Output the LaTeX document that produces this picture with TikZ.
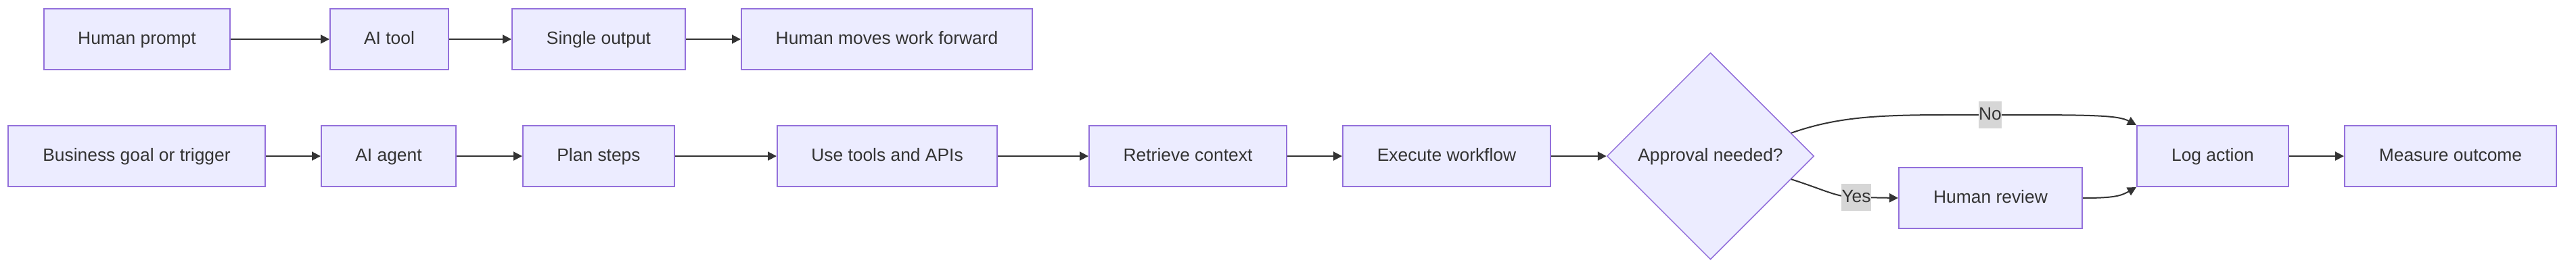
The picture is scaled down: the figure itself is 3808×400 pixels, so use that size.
\documentclass[tikz,border=0pt]{standalone}
\usepackage{fontspec}
\setmainfont{Liberation Sans}
\usepackage{tikz}
\usetikzlibrary{arrows.meta, shapes.geometric}

\definecolor{boxfill}{HTML}{ECECFF}
\definecolor{boxline}{HTML}{9370DB}
\definecolor{edgegray}{HTML}{333333}
\definecolor{lblfill}{HTML}{D6D6D6}

\tikzset{
  box/.style={draw=boxline, fill=boxfill, line width=2pt, minimum height=90pt,
              inner sep=0pt, text height=20pt, text depth=6pt, text=edgegray},
  decision/.style={diamond, aspect=1, draw=boxline, fill=boxfill, line width=1.5pt,
              minimum width=306pt, minimum height=306pt, inner sep=0pt,
              text height=20pt, text depth=6pt, text=edgegray},
  lbl/.style={fill=lblfill, inner xsep=0.5pt, inner ysep=0pt, minimum height=40pt,
              text height=20pt, text depth=6pt, text=edgegray}
}

\begin{document}
\begin{tikzpicture}[x=1pt, y=-1pt, line width=2pt, draw=edgegray,
    >={Triangle[length=13pt, width=13pt]},
    font=\fontsize{26.4}{31}\selectfont]
    \useasboundingbox (0,0) rectangle (3808,400);

    \node[box, minimum width=275pt](prompt) at (202.5, 58) {Human prompt};
    \node[box, minimum width=175pt](tool)   at (575.5, 58) {AI tool};
    \node[box, minimum width=256pt](single) at (885, 58)   {Single output};
    \node[box, minimum width=430pt](fwd)    at (1311, 58)  {Human moves work forward};

    \node[box, minimum width=380pt](goal)   at (202, 231)    {Business goal or trigger};
    \node[box, minimum width=199pt](agent)  at (574.5, 231)  {AI agent};
    \node[box, minimum width=224pt](plan)   at (885, 231)    {Plan steps};
    \node[box, minimum width=325pt](apis)   at (1311.5, 231) {Use tools and APIs};
    \node[box, minimum width=292pt](ctx)    at (1756, 231)   {Retrieve context};
    \node[box, minimum width=307pt](exec)   at (2138.5, 231) {Execute workflow};
    \node[decision](appr)                   at (2528.5, 231) {Approval needed?};
    \node[box, minimum width=271pt](review) at (2942.5, 293) {Human review};
    \node[box, minimum width=224pt](log)    at (3271, 231)   {Log action};
    \node[box, minimum width=313pt](measure) at (3622.5, 231) {Measure outcome};

    \draw[->] (prompt) edge (tool)
              (tool) edge (single)
              (single) edge (fwd);
    \draw[->] (goal) edge (agent)
              (agent) edge (plan)
              (plan) edge (apis)
              (apis) edge (ctx)
              (ctx) edge (exec)
              (exec) edge (appr)
              (log) edge (measure);

    \draw[->] (appr.16) .. controls (2730,168) and (2800,170) .. (2942,170)
        node[lbl] {No} .. controls (3090,170) and (3130,170) .. (log.north west);
    \draw[->] (appr.-16) .. controls (2700,282) and (2715,292) .. (2744,292)
        node[lbl] {Yes} -- (review.west);
    \draw[->] (review.east) .. controls (3125,293) and (3135,290) .. (log.south west);
  \end{tikzpicture}
\end{document}
